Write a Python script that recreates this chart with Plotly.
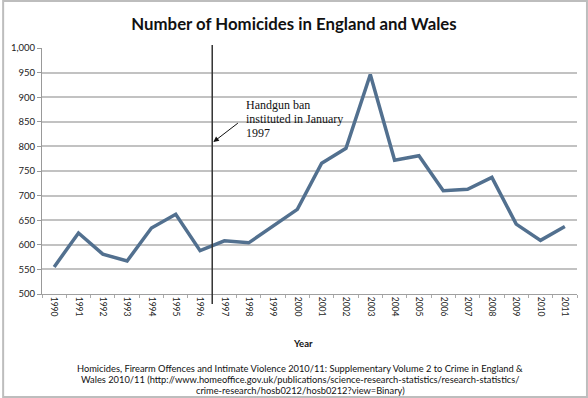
import plotly.graph_objects as go

years = [str(y) for y in range(1990, 2012)]
homicides = [555, 624, 581, 567, 634, 662, 588, 608, 604, 639, 672,
             766, 796, 946, 772, 781, 710, 713, 737, 642, 609, 637]
y_ticks = [500, 550, 600, 650, 700, 750, 800, 850, 900, 950, 1000]

title_text = "Number of Homicides in England and Wales"
x_title = "Year"
note_lines = ["Handgun ban", "instituted in January", "1997"]
source_lines = [
    "Homicides, Firearm Offences and Intimate Violence 2010/11: Supplementary Volume 2 to Crime in England &",
    "Wales 2010/11 (http://www.homeoffice.gov.uk/publications/science-research-statistics/research-statistics/",
    "crime-research/hosb0212/hosb0212?view=Binary)",
]

W, H = 588, 398
L, R, T, B = 40, 577, 48, 294


def px(x):
    return (x - L) / (R - L)


def py(y):
    return (B - y) / (B - T)


fig = go.Figure()
fig.add_trace(go.Scatter(
    x=years, y=homicides, mode="lines",
    line=dict(color="#52708f", width=3.5),
    hoverinfo="x+y", showlegend=False,
))

fig.update_layout(
    width=W, height=H,
    margin=dict(l=L, r=W - R, t=T, b=H - B, pad=0),
    paper_bgcolor="white", plot_bgcolor="white",
    font=dict(family="Lato, Liberation Sans, sans-serif", color="#111"),
    title=dict(text="<b>" + title_text + "</b>", x=0.5, xanchor="center",
               y=1 - 24 / H, yanchor="middle",
               font=dict(size=16.8, color="#111")),
    xaxis=dict(
        type="category", categoryorder="array", categoryarray=years,
        range=[-0.5, len(years) - 0.5],
        tickangle=90, tickfont=dict(size=8.5, color="#222"),
        ticks="outside", ticklen=3, tickcolor="#aaaaaa", tickson="boundaries",
        showgrid=False, showline=True, linecolor="#a0a0a0", linewidth=1,
        zeroline=False,
    ),
    yaxis=dict(
        range=[500, 1000], tickvals=y_ticks, tickformat=",",
        tickfont=dict(size=9.5, color="#222"),
        ticks="outside", ticklen=4, tickcolor="#999",
        showgrid=True, gridcolor="#c2c2c2", gridwidth=1.5,
        showline=True, linecolor="#999", linewidth=1, zeroline=False,
    ),
)

# vertical marker line between 1996 and 1997
fig.add_shape(type="line", xref="x", yref="paper", x0=6.5, x1=6.5,
              y0=py(304), y1=py(45), line=dict(color="#333333", width=1.5))

# annotation text (one line each) and arrow
for i, line in enumerate(note_lines):
    fig.add_annotation(xref="paper", yref="paper", x=px(243), y=py(105 + 14 * i),
                       xanchor="left", yanchor="middle", align="left",
                       text=line, showarrow=False,
                       font=dict(family="Liberation Serif, Times New Roman, serif",
                                 size=12, color="#111"))
fig.add_annotation(xref="paper", yref="paper", x=px(212), y=py(142),
                   ax=26, ay=-20, axref="pixel", ayref="pixel",
                   text="", showarrow=True, arrowhead=2, arrowsize=1.1,
                   arrowwidth=1, arrowcolor="#111")

# axis title
fig.add_annotation(xref="paper", yref="paper", x=px(302), y=py(343),
                   xanchor="center", yanchor="middle", showarrow=False,
                   text="<b>" + x_title + "</b>", font=dict(size=9.5, color="#111"))

# source (one annotation per line)
for i, line in enumerate(source_lines):
    fig.add_annotation(xref="paper", yref="paper", x=px(299), y=py(368 + 11 * i),
                       xanchor="center", yanchor="middle", showarrow=False,
                       text=line, font=dict(size=9.3, color="#111"))

# outer frame
fig.add_shape(type="rect", xref="paper", yref="paper",
              x0=px(1), x1=px(W - 1), y0=py(H - 1), y1=py(1),
              line=dict(color="#bdbdbd", width=2), layer="below")

fig.write_html("out.html", config={"displayModeBar": False},
               post_script="document.body.style.margin='0';document.body.style.overflow='hidden';")
